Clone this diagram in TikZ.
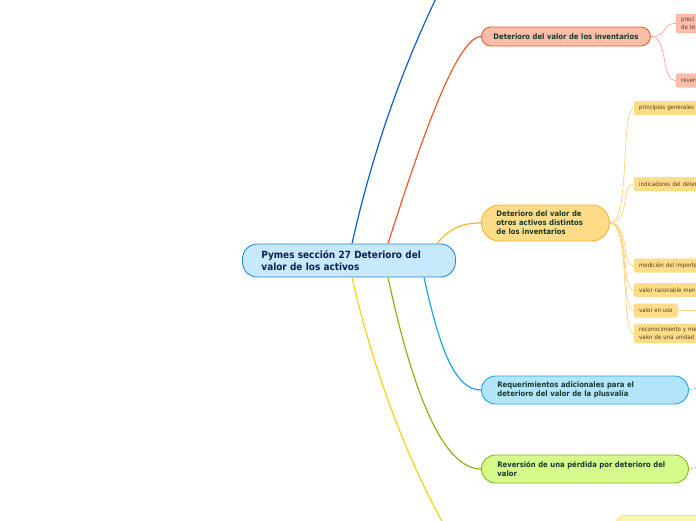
\documentclass[tikz,border=0pt]{standalone}
\usepackage{fontspec}
\setmainfont{DejaVu Sans Condensed}
\definecolor{rootf}{HTML}{C6E9FB}
\definecolor{rootb}{HTML}{2A8AD0}
\definecolor{roott}{HTML}{0D1F4D}
\definecolor{brt}{HTML}{173A2A}
\definecolor{redf}{HTML}{F9BDA8}
\definecolor{redb}{HTML}{F15A2A}
\definecolor{redl}{HTML}{F9A88C}
\definecolor{orf}{HTML}{FEDC88}
\definecolor{orb}{HTML}{FBB52A}
\definecolor{orl}{HTML}{FDD47A}
\definecolor{cyf}{HTML}{B2E5FA}
\definecolor{cyb}{HTML}{1BA6E8}
\definecolor{cyl}{HTML}{8FD6F5}
\definecolor{grf}{HTML}{D5F98B}
\definecolor{grb}{HTML}{86B814}
\definecolor{grl}{HTML}{BDE57A}
\definecolor{blb}{HTML}{0A5FCF}
\definecolor{yeb}{HTML}{F3D511}
\definecolor{yef}{HTML}{FDF4A8}
\definecolor{yel}{HTML}{F8E56A}
\definecolor{cht}{HTML}{4F3F1C}
\definecolor{chtr}{HTML}{5B3A30}
\begin{document}
\begin{tikzpicture}[x=1pt,y=-1pt,
  rootbox/.style={draw=rootb, fill=rootf, line width=0.9pt, rounded corners=15pt, anchor=west, align=left,
    font=\fontsize{9.9}{11.5}\selectfont\bfseries, text=roott, inner xsep=19pt, inner ysep=0pt,
    text width=175pt, minimum height=33pt},
  branch/.style={line width=0.9pt, anchor=west, align=left, font=\fontsize{7.6}{9}\selectfont\bfseries,
    text=brt, inner ysep=0pt},
  childbox/.style={line width=0.4pt, rounded corners=2pt, anchor=west, align=left,
    font=\fontsize{6}{7.5}\selectfont, inner xsep=5pt, inner ysep=0pt, minimum height=13.5pt},
  ochild/.style={childbox, fill=orf, draw=orl, text=cht},
  rchild/.style={childbox, fill=redf, draw=redl, text=chtr},
  mainline/.style={line width=1.2pt},
  subline/.style={line width=0.7pt}
]
\useasboundingbox (0,0) rectangle (696,520);
\clip (0,0) rectangle (696,520);
\fill[white] (0,0) rectangle (696,520);

% root
\node[rootbox] (root) at (242,260.5) {Pymes sección 27 Deterioro del\\valor de los activos};

% branches
\node[branch, draw=redb, fill=redf, rounded corners=9.5pt, minimum height=19pt, inner xsep=12pt, text width=145pt] (red) at (481,36.5) {Deterioro del valor de los inventarios};
\node[branch, draw=orb, fill=orf, rounded corners=18pt, minimum height=36pt, inner xsep=15pt, text width=98pt] (ora) at (481,223) {Deterioro del valor de\\otros activos distintos\\de los inventarios};
\node[branch, draw=cyb, fill=cyf, rounded corners=14pt, minimum height=28pt, inner xsep=16pt, text width=175pt] (cya) at (481,390) {Requerimientos adicionales para el\\deterioro del valor de la plusvalía};
\node[branch, draw=grb, fill=grf, rounded corners=14pt, minimum height=28pt, inner xsep=16pt, text width=175pt] (gre) at (481,469) {Reversión de una pérdida por deterioro del\\valor};
\node[draw=yel, fill=yef, line width=0.9pt, rounded corners=10pt, anchor=north west, minimum width=110pt, minimum height=24pt] (yel) at (615,515) {};

\coordinate (blueend) at (446,-22);
\coordinate (yelend) at (453,540);

% main connectors
\draw[mainline, blb] ([xshift=110pt]root.north west) .. controls (382,110) and (425,20) .. (blueend);
\draw[mainline, redb] ([xshift=146pt]root.north west) .. controls (415,160) and (455,36.5) .. (red.west);
\draw[mainline, orb] ([xshift=195pt]root.north west) .. controls (450,228) and (462,223) .. (ora.west);
\draw[mainline, cyb] ([xshift=182pt]root.south west) .. controls (440,350) and (455,390) .. (cya.west);
\draw[mainline, grb] ([xshift=146pt]root.south west) .. controls (410,380) and (440,469) .. (gre.west);
\draw[mainline, yeb] ([xshift=110pt]root.south west) .. controls (380,400) and (425,495) .. (yelend);

% red children
\node[rchild, text width=50pt, minimum height=19pt] (r1) at (676,23.5) {preci\\de te};
\node[rchild, text width=50pt] (r2) at (676,80.5) {revers};
\draw[subline, redl] (red.east) .. controls ([xshift=18pt]red.east) and ([xshift=-16pt]r1.west) .. (r1.west);
\draw[subline, redl] (red.east) .. controls ([xshift=18pt]red.east) and ([xshift=-16pt]r2.west) .. (r2.west);

% orange children
\node[ochild, text width=70pt] (o1) at (634,108) {principios generales};
\node[ochild, text width=70pt] (o2) at (634,184) {indicadores del deter};
\node[ochild, text width=70pt] (o3) at (634,265.5) {medición del importe};
\node[ochild, text width=70pt] (o4) at (634,290) {valor razonable men};
\node[ochild] (o5) at (634,310.5) {valor en uso};
\node[ochild, text width=70pt, minimum height=19pt] (o6) at (634,333.5) {reconocimiento y me\\valor de una unidad};
\foreach \c in {o1,o2,o3,o4,o5,o6}{
  \draw[subline, orl] (ora.east) .. controls ([xshift=21pt]ora.east) and ([xshift=-14pt]\c.west) .. (\c.west);
}

% stubs going off the right edge
\coordinate (o5end) at (700,310.5);
\coordinate (cyaend) at (700,388);
\coordinate (greend) at (700,467);
\draw[subline, orl] (o5.east) -- (o5end);
\draw[subline, cyl] (cya.east) .. controls (692,390) and (694,388) .. (cyaend);
\draw[subline, grl] (gre.east) .. controls (692,469) and (694,467) .. (greend);
\end{tikzpicture}
\end{document}
